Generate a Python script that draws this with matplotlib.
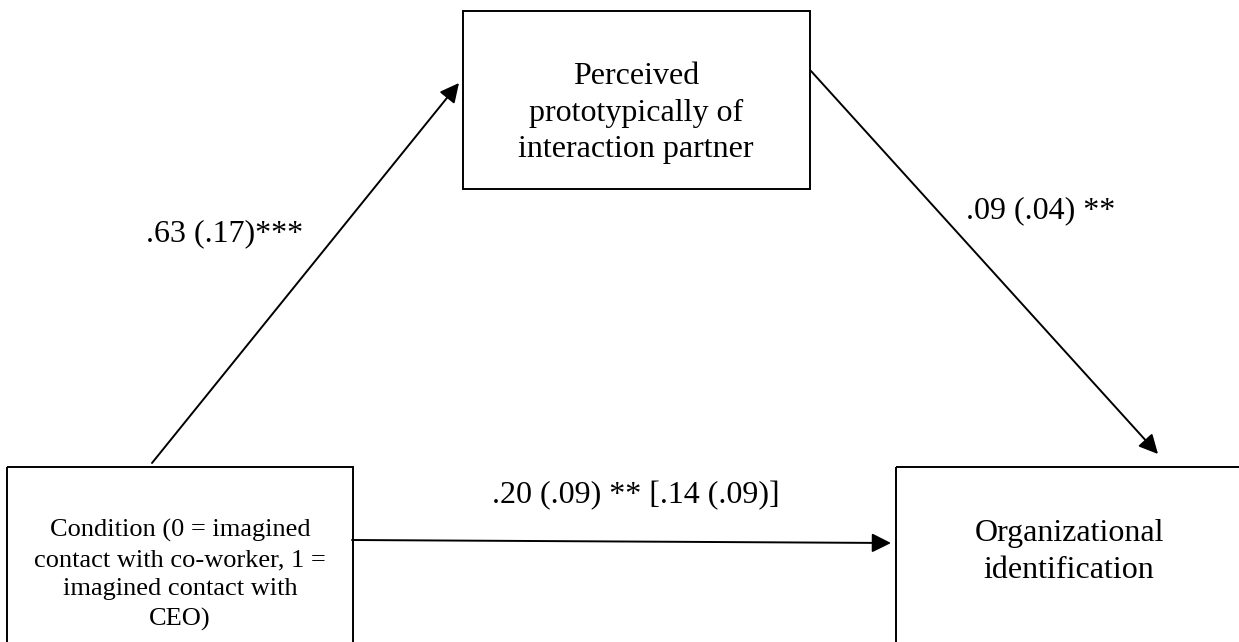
import matplotlib.pyplot as plt
from matplotlib.patches import Rectangle

plt.rcParams['font.family'] = ['Liberation Serif', 'DejaVu Serif']

# Nodes of the mediation model
node_labels = [
    "Condition (0 = imagined\ncontact with co-worker, 1 =\nimagined contact with\nCEO)",
    "Perceived\nprototypically of\ninteraction partner",
    "Organizational\nidentification",
]
# Path coefficients: a path, b path, c path [c']
path_labels = [
    ".63 (.17)***",
    ".09 (.04) **",
    ".20 (.09) ** [.14 (.09)]",
]

W, H = 1239, 642
fig = plt.figure(figsize=(W / 100, H / 100), dpi=100)
ax = fig.add_axes([0, 0, 1, 1])
ax.set_xlim(0, W)
ax.set_ylim(H, 0)
ax.axis('off')

# boxes in pixel coords: (left, top, width, height)
boxes = [(7, 467, 346, 200), (463, 11, 347, 178), (896, 467, 360, 200)]
text_pos = [(180, 575), (636, 113), (1069, 552)]
text_size = [19, 23, 23]
line_sp = [1.42, 1.36, 1.36]

for (x, y, w, h), (tx, ty), lab, fs, ls in zip(boxes, text_pos, node_labels,
                                                text_size, line_sp):
    ax.add_patch(Rectangle((x, y), w, h, fill=False, edgecolor='black', lw=1.4))
    ax.text(tx, ty, lab, ha='center', va='center', fontsize=fs, linespacing=ls)

arrow = dict(arrowstyle='-|>,head_length=0.58,head_width=0.29', color='black',
             lw=1.4, mutation_scale=20, shrinkA=0, shrinkB=0)
ax.annotate('', xy=(459, 83), xytext=(152, 463), arrowprops=arrow)
ax.annotate('', xy=(1158, 454), xytext=(811, 71), arrowprops=arrow)
ax.annotate('', xy=(891, 543), xytext=(352, 540), arrowprops=arrow)

ax.text(225, 234, path_labels[0], ha='center', va='center', fontsize=23)
ax.text(1041, 211, path_labels[1], ha='center', va='center', fontsize=23)
ax.text(636, 496, path_labels[2], ha='center', va='center', fontsize=23)

fig.savefig('out.png', dpi=100)
